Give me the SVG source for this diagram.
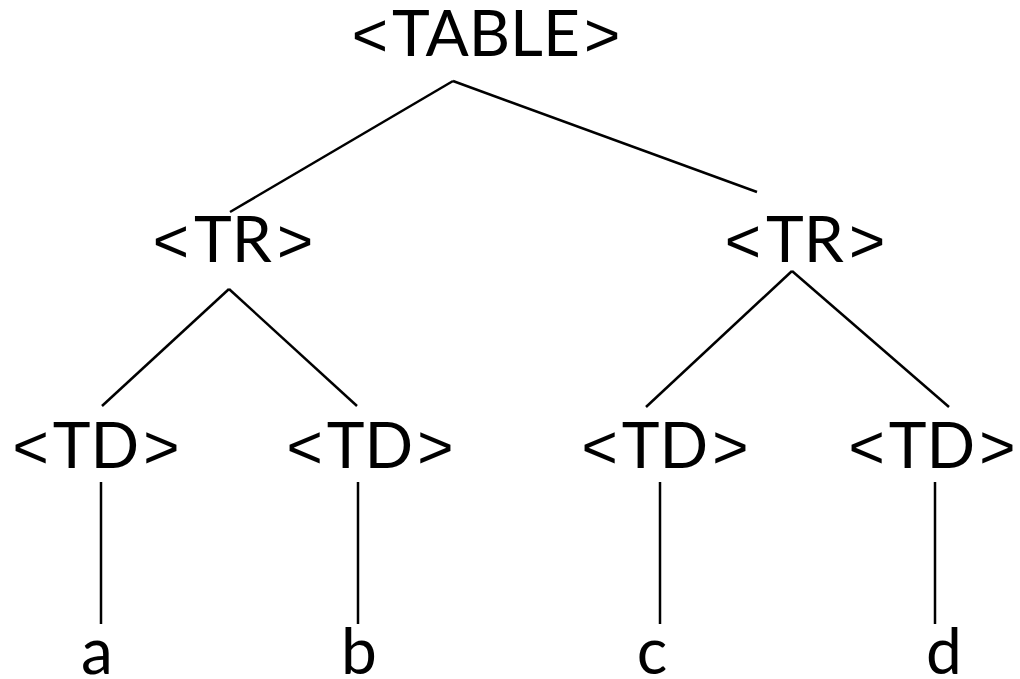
<svg xmlns="http://www.w3.org/2000/svg" width="1020" height="679" viewBox="0 0 1020 679">
  <style>
    .lbl { font-family: Lato, "Open Sans", "Liberation Sans", sans-serif; font-size: 64px; fill: #000; text-anchor: middle; }
    .br { font-family: "Liberation Sans", Arial, sans-serif; font-size: 62px; }
    .edge { stroke: #000; stroke-width: 2.5; fill: none; stroke-linecap: butt; }
  </style>
  <rect width="1020" height="679" fill="#fff"/>

  <!-- tree edges -->
  <g id="connectors">
    <line class="edge" x1="453" y1="81" x2="230" y2="212"/>
    <line class="edge" x1="453" y1="81" x2="757" y2="192"/>
    <line class="edge" x1="229" y1="289" x2="102" y2="406"/>
    <line class="edge" x1="229" y1="289" x2="357" y2="406"/>
    <line class="edge" x1="792" y1="271" x2="646" y2="407"/>
    <line class="edge" x1="792" y1="271" x2="949" y2="407"/>
    <line class="edge" x1="101" y1="482" x2="101" y2="624"/>
    <line class="edge" x1="358" y1="482" x2="358" y2="624"/>
    <line class="edge" x1="660" y1="482" x2="660" y2="624"/>
    <line class="edge" x1="935" y1="482" x2="935" y2="624"/>
  </g>

  <!-- angle brackets set a little apart from the tag names -->
  <g id="table"><text class="lbl" x="486" y="56"><tspan class="br">&lt;</tspan><tspan dx="4">TABLE</tspan><tspan class="br" dx="4">&gt;</tspan></text></g>
  <g id="tr-left"><text class="lbl" x="233" y="262"><tspan class="br">&lt;</tspan><tspan dx="5">TR</tspan><tspan class="br" dx="5">&gt;</tspan></text></g>
  <g id="tr-right"><text class="lbl" x="805" y="262"><tspan class="br">&lt;</tspan><tspan dx="5">TR</tspan><tspan class="br" dx="5">&gt;</tspan></text></g>
  <g id="td-1"><text class="lbl" x="96" y="468"><tspan class="br">&lt;</tspan><tspan dx="4">TD</tspan><tspan class="br" dx="4">&gt;</tspan></text></g>
  <g id="td-2"><text class="lbl" x="370" y="468"><tspan class="br">&lt;</tspan><tspan dx="4">TD</tspan><tspan class="br" dx="4">&gt;</tspan></text></g>
  <g id="td-3"><text class="lbl" x="665" y="468"><tspan class="br">&lt;</tspan><tspan dx="4">TD</tspan><tspan class="br" dx="4">&gt;</tspan></text></g>
  <g id="td-4"><text class="lbl" x="932" y="468"><tspan class="br">&lt;</tspan><tspan dx="4">TD</tspan><tspan class="br" dx="4">&gt;</tspan></text></g>
  <g id="leaf-a"><text class="lbl" x="97" y="674">a</text></g>
  <g id="leaf-b"><text class="lbl" x="359" y="674">b</text></g>
  <g id="leaf-c"><text class="lbl" x="652" y="674">c</text></g>
  <g id="leaf-d"><text class="lbl" x="944" y="674">d</text></g>
</svg>
